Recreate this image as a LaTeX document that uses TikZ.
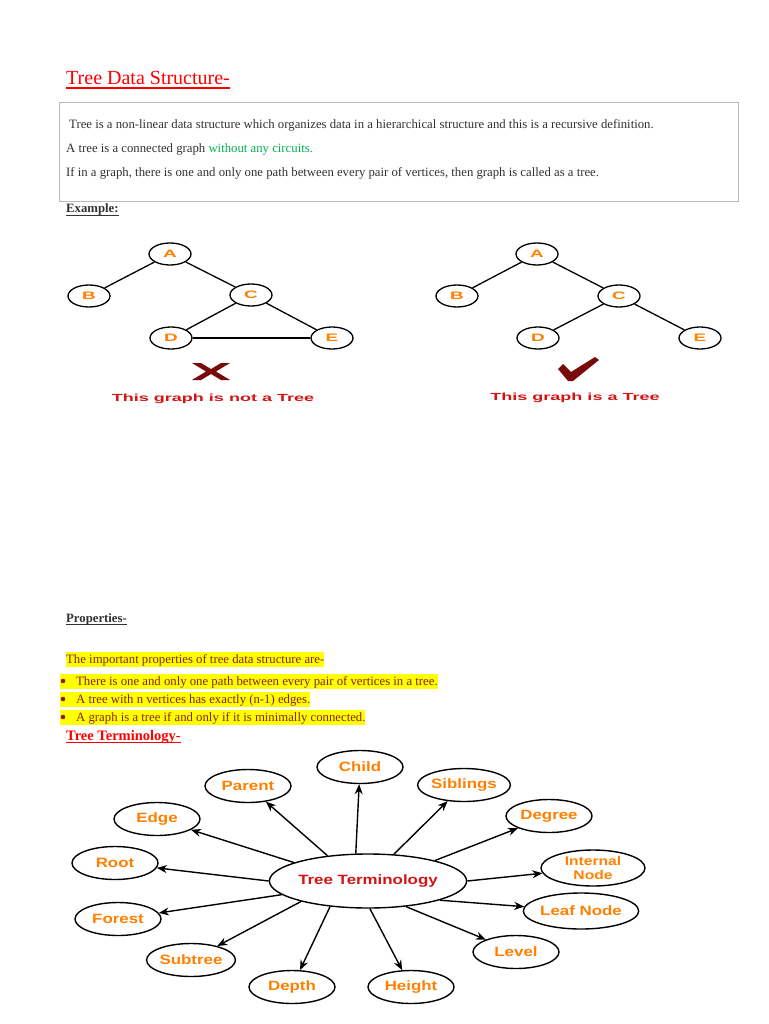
\documentclass[tikz,border=0pt]{standalone}
\usepackage{fontspec}
\setmainfont{Liberation Serif}
\newfontfamily\wsans[FakeStretch=1.25]{Liberation Sans}
\newfontfamily\gsans[FakeStretch=1.75]{Liberation Sans}
\usetikzlibrary{shapes.geometric,arrows.meta}
\definecolor{bodygray}{RGB}{50,50,50}
\definecolor{okgreen}{RGB}{0,176,80}
\definecolor{hlyellow}{RGB}{255,255,0}
\definecolor{maroon}{RGB}{140,30,30}
\definecolor{lblorange}{RGB}{255,128,0}
\definecolor{capred}{RGB}{210,20,20}
\definecolor{markred}{RGB}{120,10,10}
\definecolor{boxgray}{RGB}{185,185,185}
\begin{document}
\begin{tikzpicture}[x=1pt,y=-1pt,
  body/.style={anchor=base west, inner sep=0pt, font=\fontsize{12.75}{14}\selectfont, text=bodygray},
  hl/.style={anchor=base west, inner xsep=0pt, inner ysep=0pt, text height=11.5pt, text depth=3.5pt, fill=hlyellow, font=\fontsize{12.75}{14}\selectfont, text=maroon},
  gnode/.style={ellipse, draw, line width=1.3pt, fill=white, minimum width=42pt, minimum height=22pt, inner sep=0pt, font=\gsans\bfseries\fontsize{10.8}{11}\selectfont, text=lblorange},
  gedge/.style={line width=1.3pt},
  gcap/.style={anchor=base, inner sep=0pt, font=\gsans\bfseries\fontsize{10.3}{11}\selectfont, text=capred},
  tnode/.style={ellipse, draw, line width=1.4pt, fill=white, minimum width=86pt, minimum height=33pt, inner sep=0pt, align=center, font=\wsans\bfseries\fontsize{13.5}{13}\selectfont, text=lblorange},
  arr/.style={-{Stealth[length=10pt,width=8pt]}, line width=1.4pt},
  bul/.style={circle, fill=maroon, inner sep=0pt, minimum size=4.6pt}
]
\useasboundingbox[fill=white] (0,0) rectangle (768,1024);

% Title
\node[anchor=base west, inner sep=0pt, font=\fontsize{20}{22}\selectfont, text=red] (title) at (66,85) {Tree Data Structure-};
\draw[red, line width=1.5pt] ([yshift=-2.8pt]title.base west) -- ([yshift=-2.8pt]title.base east);

% Definition box
\draw[boxgray, line width=0.9pt] (59,102) rectangle (738,201);
\node[body] (d1) at (69,129) {Tree is a non-linear data structure which organizes data in a hierarchical structure and this is a recursive definition.};
\node[body] (d2) at (66,153) {A tree is a connected graph \textcolor{okgreen}{without any circuits.}};
\node[body] (d3) at (66,177) {If in a graph, there is one and only one path between every pair of vertices, then graph is called as a tree.};

% Example heading
\node[body, font=\bfseries\fontsize{12.75}{14}\selectfont] (ex) at (66,213) {Example:};
\draw[bodygray, line width=0.8pt] ([yshift=-2pt]ex.base west) -- ([yshift=-2pt]ex.base east);

% Left graph (not a tree)
\node[gnode] (la) at (170,254) {A};
\node[gnode] (lb) at (89,296) {B};
\node[gnode] (lc) at (251,295) {C};
\node[gnode] (ld) at (171,338) {D};
\node[gnode] (le) at (332,338) {E};
\draw[gedge] (la) -- (lb);
\draw[gedge] (la) -- (lc);
\draw[gedge] (lc) -- (ld);
\draw[gedge] (lc) -- (le);
\draw[gedge] (ld) -- (le);
\fill[markred] (192,363) -- (201,363) -- (211,369) -- (221,363) -- (230,363) -- (216,371.5) -- (230,380) -- (221,380) -- (211,374) -- (201,380) -- (192,380) -- (206,371.5) -- cycle;
\node[gcap] (lcap) at (213,401) {This graph is not a Tree};

% Right graph (a tree)
\node[gnode] (ra) at (537,254) {A};
\node[gnode] (rb) at (457,296) {B};
\node[gnode] (rc) at (619,296) {C};
\node[gnode] (rd) at (538,338) {D};
\node[gnode] (re) at (700,338) {E};
\draw[gedge] (ra) -- (rb);
\draw[gedge] (ra) -- (rc);
\draw[gedge] (rc) -- (rd);
\draw[gedge] (rc) -- (re);
\fill[markred] (558,369) -- (563,364) -- (571,372) -- (595,357) -- (599,360) -- (573,381) -- (568,381) -- cycle;
\node[gcap] (rcap) at (575,400) {This graph is a Tree};

% Properties
\node[body, font=\bfseries\fontsize{12.75}{14}\selectfont] (prop) at (66,622) {Properties-};
\draw[bodygray, line width=0.8pt] ([yshift=-2pt]prop.base west) -- ([yshift=-2pt]prop.base east);
\node[hl] (p0) at (66,663) {The important properties of tree data structure are-};
\node[hl] (p1) at (60,685) {\hspace*{16pt}There is one and only one path between every pair of vertices in a tree.};
\node[hl] (p2) at (60,703) {\hspace*{16pt}A tree with n vertices has exactly (n-1) edges.};
\node[hl] (p3) at (60,721) {\hspace*{16pt}A graph is a tree if and only if it is minimally connected.};
\node[bul] (b1) at (63,681) {};
\node[bul] (b2) at (63,699) {};
\node[bul] (b3) at (63,717) {};

% Tree Terminology heading
\node[anchor=base west, inner sep=0pt, font=\bfseries\fontsize{14.5}{16}\selectfont, text=red] (tth) at (66,740) {Tree Terminology-};
\draw[red, line width=1pt] ([yshift=-2pt]tth.base west) -- ([yshift=-2pt]tth.base east);

% Terminology diagram
\node[tnode, minimum width=192pt, minimum height=54pt, text=capred] (tt) at (368,881) {Tree Terminology};
\node[tnode] (child) at (360,767) {Child};
\node[tnode] (parent) at (248,786) {Parent};
\node[tnode] (edge) at (157,819) {Edge};
\node[tnode] (root) at (115,863) {Root};
\node[tnode] (forest) at (118,919) {Forest};
\node[tnode] (subtree) at (191,960) {Subtree};
\node[tnode] (depth) at (292,987) {Depth};
\node[tnode] (height) at (411,987) {Height};
\node[tnode] (level) at (516,952) {Level};
\node[tnode, minimum width=101pt, minimum height=36pt] (leaf) at (581,911) {Leaf Node};
\node[tnode, minimum width=104pt, minimum height=36pt, font=\wsans\bfseries\fontsize{12.5}{13.5}\selectfont] (internal) at (593,868) {Internal\\Node};
\node[tnode] (degree) at (549,816) {Degree};
\node[tnode] (siblings) at (464,785) {Siblings};

\draw[arr] (tt.114) -- (child);
\draw[arr] (tt.148) -- (parent);
\draw[arr] (tt.166) -- (edge);
\draw[arr] (tt.180) -- (root);
\draw[arr] (tt.189) -- (forest);
\draw[arr] (tt.197) -- (subtree);
\draw[arr] (tt.214) -- (depth);
\draw[arr] (tt.274) -- (height);
\draw[arr] (tt.326) -- (level);
\draw[arr] (tt.345) -- (leaf);
\draw[arr] (tt.0) -- (internal);
\draw[arr] (tt.17) -- (degree);
\draw[arr] (tt.46) -- (siblings);
\end{tikzpicture}
\end{document}
